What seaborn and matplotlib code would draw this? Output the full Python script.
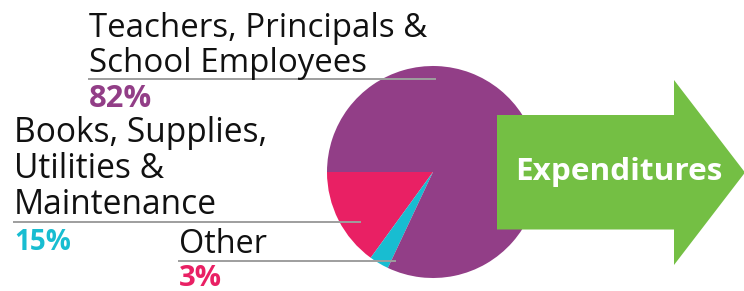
import matplotlib
matplotlib.use("Agg")
import matplotlib.pyplot as plt
import seaborn as sns
from matplotlib.patches import Polygon

# ---- data ----
categories = ["Books, Supplies,\nUtilities &\nMaintenance", "Other",
              "Teachers, Principals &\nSchool Employees"]
shares = [15, 3, 82]
pct_labels = ["15%", "3%", "82%"]
slice_colors = ["#E92064", "#18BDD1", "#923E87"]
pct_colors = ["#18BDD1", "#E92064", "#923E87"]
arrow_text = "Expenditures"

# ---- layout (pixels) ----
W, H = 744, 291
pie_center = (433, 172)
pie_radius = 106
# label x, first baseline y, line step, target width of first line
label_layout = [(14, 142, 36, 253), (179, 252.7, 36, 88), (89, 36.7, 35.3, 337)]
pct_layout = [(14, 250, 57), (179, 285.5, 43), (89, 107, 63)]
leader_lines = [((12.7, 361), 221.7), ((177.7, 396), 260.7), ((88, 436), 79)]
arrow_pts = [(497, 115), (674, 115), (674, 80), (745, 172.5), (674, 265),
             (674, 229.5), (497, 229.5)]

sns.set_theme(style="white")
plt.rcParams['font.family'] = ['Open Sans', 'DejaVu Sans']

fig = plt.figure(figsize=(W / 100, H / 100), dpi=100)
ax = fig.add_axes([0, 0, 1, 1])

ax.pie(shares, colors=slice_colors, startangle=180, counterclock=False,
       center=pie_center, radius=pie_radius, frame=False,
       wedgeprops=dict(linewidth=0))
ax.set_xlim(0, W)
ax.set_ylim(H, 0)
ax.set_aspect('equal')
ax.axis('off')

for (x0, x1), y in leader_lines:
    ax.plot([x0, x1], [y, y], color="#9E9E9E", lw=1.4, solid_capstyle='butt', zorder=3)

ax.add_patch(Polygon(arrow_pts, closed=True, facecolor="#74BF44",
                     edgecolor="none", zorder=4))

renderer = fig.canvas.get_renderer()

def fit(t, target):
    bb = t.get_window_extent(renderer)
    t.set_fontsize(t.get_fontsize() * target / bb.width)
    return t.get_fontsize()

for cat, (x, y, step, tw) in zip(categories, label_layout):
    lines = cat.split("\n")
    first = ax.text(x, y, lines[0], ha='left', va='baseline', fontsize=20,
                    color="#111111", zorder=5)
    fs = fit(first, tw)
    for i, ln in enumerate(lines[1:], start=1):
        ax.text(x, y + i * step, ln, ha='left', va='baseline', fontsize=fs,
                color="#111111", zorder=5)

for lab, col, (x, y, tw) in zip(pct_labels, pct_colors, pct_layout):
    t = ax.text(x, y, lab, ha='left', va='baseline', fontsize=20,
                fontweight='bold', color=col, zorder=5)
    fit(t, tw)

t = ax.text(618.5, 180, arrow_text, ha='center', va='baseline', fontsize=20,
            fontweight='bold', color="white", zorder=6)
fit(t, 207)

fig.savefig("out.png", dpi=100)
